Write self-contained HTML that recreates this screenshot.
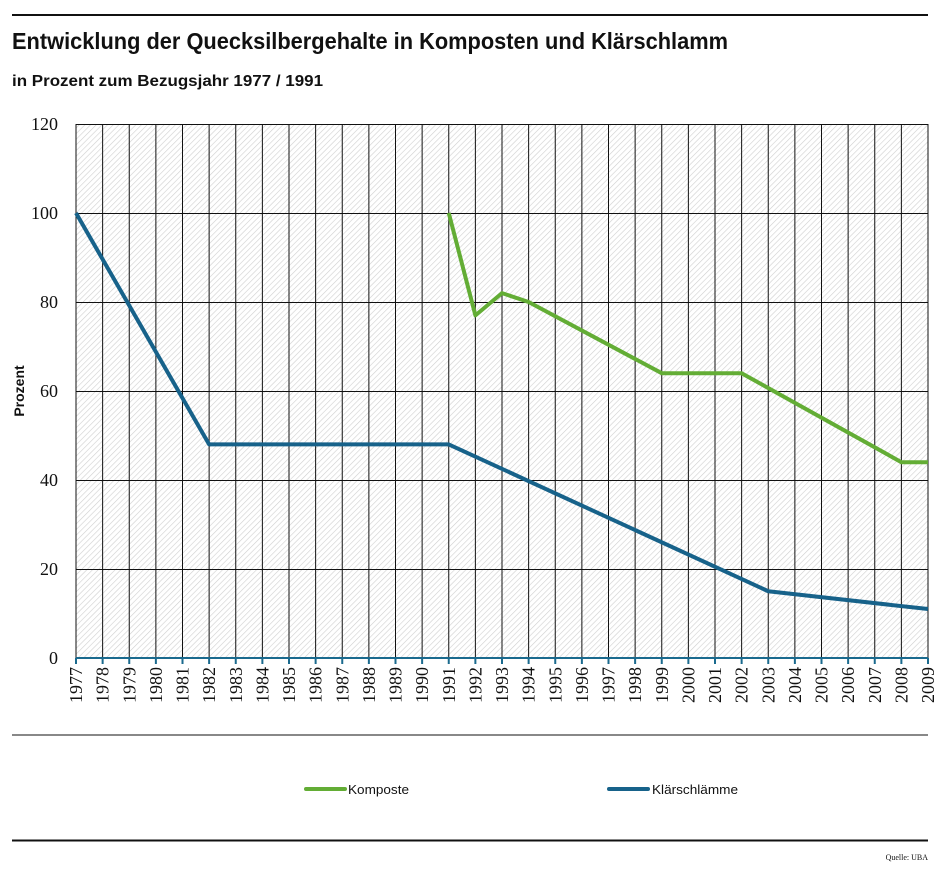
<!DOCTYPE html>
<html><head><meta charset="utf-8"><style>
body{margin:0;background:#fff;}
svg{display:block;}
.t{font-family:"Liberation Sans",sans-serif;font-weight:bold;fill:#111;}
.s{font-family:"Liberation Serif",serif;font-size:18px;fill:#111;}
.yr{font-family:"Liberation Serif",serif;font-size:18px;fill:#111;}
.l{font-family:"Liberation Sans",sans-serif;font-size:13px;fill:#111;}
</style></head><body>
<svg width="948" height="881" viewBox="0 0 948 881" xmlns="http://www.w3.org/2000/svg">
<defs>
<pattern id="h" width="4" height="4" patternUnits="userSpaceOnUse" patternTransform="rotate(45)">
<rect width="4" height="4" fill="#fff"/>
<line x1="0" y1="0" x2="0" y2="4" stroke="#cfcfcf" stroke-width="1.2"/>
</pattern>
</defs>
<line x1="12" y1="15" x2="928" y2="15" stroke="#111" stroke-width="2"/>
<text class="t" x="12" y="49" font-size="23" textLength="716" lengthAdjust="spacingAndGlyphs">Entwicklung der Quecksilbergehalte in Komposten und Klärschlamm</text>
<text class="t" x="12" y="86" font-size="16" textLength="311" lengthAdjust="spacingAndGlyphs">in Prozent zum Bezugsjahr 1977 / 1991</text>
<rect x="76" y="124" width="852" height="534" fill="url(#h)"/>
<g stroke="#111" stroke-width="1">
<line x1="76" y1="124.5" x2="928" y2="124.5"/>
<line x1="76" y1="213.5" x2="928" y2="213.5"/>
<line x1="76" y1="302.5" x2="928" y2="302.5"/>
<line x1="76" y1="391.5" x2="928" y2="391.5"/>
<line x1="76" y1="480.5" x2="928" y2="480.5"/>
<line x1="76" y1="569.5" x2="928" y2="569.5"/>
</g>
<g id="v" stroke="#111" stroke-width="1"></g>
<line x1="76" y1="658" x2="928" y2="658" stroke="#1a6a8e" stroke-width="2"/>
<g id="tk" stroke="#1a6a8e" stroke-width="2"></g>
<g class="s" text-anchor="end">
<text x="58" y="130">120</text><text x="58" y="219">100</text><text x="58" y="308">80</text>
<text x="58" y="397">60</text><text x="58" y="486">40</text><text x="58" y="575">20</text><text x="58" y="664">0</text>
</g>
<text class="t" font-size="14" transform="translate(24,391) rotate(-90)" text-anchor="middle">Prozent</text>
<g id="yl" class="yr"></g>
<polyline fill="none" stroke="#17628a" stroke-width="4" stroke-linejoin="round" points="76,213 209.1,444.4 448.75,444.4 768.25,591.25 928,609.05"/>
<polyline fill="none" stroke="#63ad35" stroke-width="4" stroke-linejoin="round" points="448.75,213 475.4,315.35 502,293.1 528.6,302 661.75,373.2 741.6,373.2 901.4,462.2 928,462.2"/>
<line x1="12" y1="735" x2="928" y2="735" stroke="#111" stroke-width="1"/>
<line x1="306" y1="789" x2="345" y2="789" stroke="#63ad35" stroke-width="4" stroke-linecap="round"/>
<text class="l" x="348" y="794" textLength="61" lengthAdjust="spacingAndGlyphs">Komposte</text>
<line x1="609" y1="789" x2="648" y2="789" stroke="#17628a" stroke-width="4" stroke-linecap="round"/>
<text class="l" x="652" y="794" textLength="86" lengthAdjust="spacingAndGlyphs">Klärschlämme</text>
<line x1="12" y1="840.5" x2="928" y2="840.5" stroke="#111" stroke-width="2"/>
<text x="928" y="860" text-anchor="end" font-family="Liberation Serif,serif" font-size="8" fill="#111">Quelle: UBA</text>
<script>
var ns="http://www.w3.org/2000/svg";
for(var i=0;i<=32;i++){
 var x=76+i*26.625;
 var l=document.createElementNS(ns,"line");
 l.setAttribute("x1",x);l.setAttribute("x2",x);l.setAttribute("y1",124);l.setAttribute("y2",658);
 document.getElementById("v").appendChild(l);
 var t=document.createElementNS(ns,"line");
 t.setAttribute("x1",x);t.setAttribute("x2",x);t.setAttribute("y1",658);t.setAttribute("y2",664);
 document.getElementById("tk").appendChild(t);
 var tx=document.createElementNS(ns,"text");
 tx.setAttribute("transform","translate("+(x+6)+",667) rotate(-90)");
 tx.setAttribute("text-anchor","end");
 tx.textContent=String(1977+i);
 document.getElementById("yl").appendChild(tx);
}
</script>
</svg>
</body></html>
